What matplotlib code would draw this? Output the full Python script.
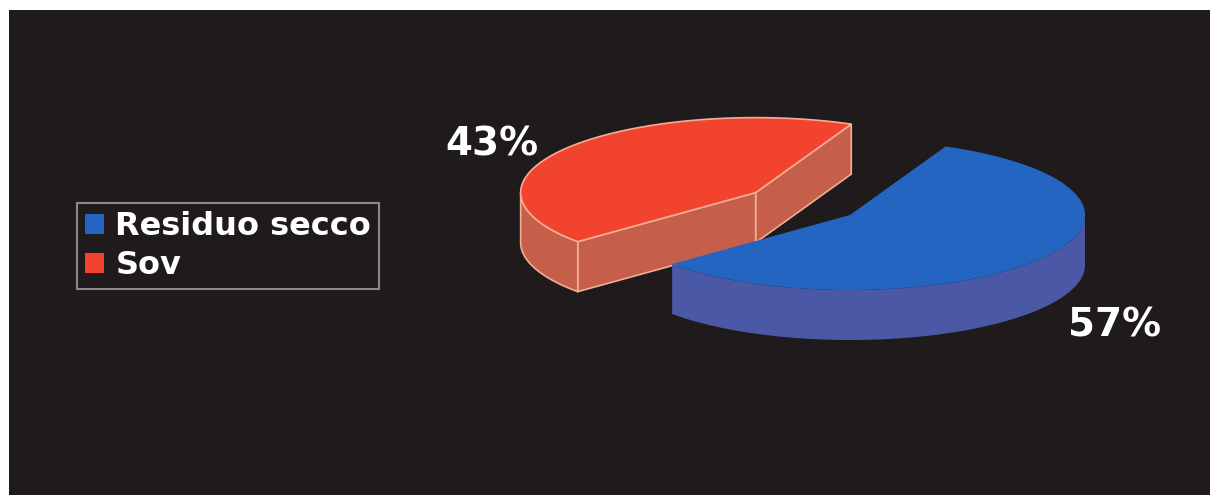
import numpy as np
import matplotlib.pyplot as plt
from matplotlib.patches import Polygon, Rectangle, Patch

labels = ['Residuo secco', 'Sov']
values = [57, 43]
pct_labels = ['57%', '43%']
top_colors = ['#2465c2', '#f2432f']
side_colors = ['#4a58a6', '#c65f49']
edge_colors = ['none', '#f4ad95']
explode = [0.0, 0.5]

W, H = 1210, 495
fig = plt.figure(figsize=(W / 100, H / 100), dpi=100, facecolor='white')
ax = fig.add_axes([0, 0, 1, 1])
ax.set_xlim(0, W)
ax.set_ylim(H, 0)
ax.axis('off')
ax.add_patch(Rectangle((9, 10), W - 9, H - 10, facecolor='#1f1a1b', edgecolor='none', zorder=0))

# pseudo-3d pie geometry (pixels)
cx, cy = 850, 215
rx, ry = 235, 75
depth = 50
start = 66

fracs = np.array(values) / sum(values)
slices = []
a = start
for i, f in enumerate(fracs):
    t1, t2 = a - 360 * f, a
    a = t1
    mid = np.radians((t1 + t2) / 2)
    ox = explode[i] * rx * np.cos(mid)
    oy = -explode[i] * ry * np.sin(mid)
    slices.append((i, t1, t2, cx + ox, cy + oy))


def pt(px, py, th, dz=0):
    r = np.radians(th)
    return (px + rx * np.cos(r), py - ry * np.sin(r) + dz)


# back slices first
for i, t1, t2, px, py in sorted(slices, key=lambda s: s[4]):
    ec = edge_colors[i]
    lw = 1.2 if ec != 'none' else 0
    # radial cut faces facing the viewer
    for t, nrm in ((t1, t1 - 90), (t2, t2 + 90)):
        if np.sin(np.radians(nrm)) < 0:
            p0 = pt(px, py, t)
            face = [(px, py), p0, (p0[0], p0[1] + depth), (px, py + depth)]
            ax.add_patch(Polygon(face, closed=True, facecolor=side_colors[i],
                                 edgecolor=ec, linewidth=lw, zorder=2))
    # front outer wall
    th = np.linspace(t1, t2, 400)
    front = np.sin(np.radians(th)) < 0
    runs = []
    cur = []
    for t, fr in zip(th, front):
        if fr:
            cur.append(t)
        elif cur:
            runs.append(cur)
            cur = []
    if cur:
        runs.append(cur)
    for run in runs:
        topp = [pt(px, py, t) for t in run]
        bot = [pt(px, py, t, depth) for t in run[::-1]]
        ax.add_patch(Polygon(topp + bot, closed=True, facecolor=side_colors[i],
                             edgecolor=ec, linewidth=lw, zorder=2))
    # top face
    arc = [pt(px, py, t) for t in th]
    ax.add_patch(Polygon([(px, py)] + arc, closed=True, facecolor=top_colors[i],
                         edgecolor=ec, linewidth=lw, zorder=3))
    # percent label
    mid = np.radians((t1 + t2) / 2)
    lx = px + 1.4 * rx * np.cos(mid)
    ly = py - 1.22 * ry * np.sin(mid) + (depth if np.sin(mid) < 0 else 0) + 6
    ax.text(lx, ly, pct_labels[i], color='white', fontsize=28, fontweight='bold',
            ha='center', va='center', zorder=5)

handles = [Patch(facecolor=c, edgecolor='none') for c in top_colors]
leg = ax.legend(handles, labels, loc='upper left', bbox_to_anchor=(77 / W, 1 - 203 / H),
                bbox_transform=fig.transFigure, frameon=True, fancybox=False,
                facecolor='#1f1a1b', edgecolor='#8a8a8a', labelcolor='white',
                prop={'weight': 'bold', 'size': 23}, handlelength=0.6, handleheight=0.6,
                handletextpad=0.35, borderpad=0.25, labelspacing=0.25, borderaxespad=0)
leg.get_frame().set_linewidth(1.5)
leg.get_frame().set_alpha(1)

plt.savefig('out.png', dpi=100, facecolor='white')
